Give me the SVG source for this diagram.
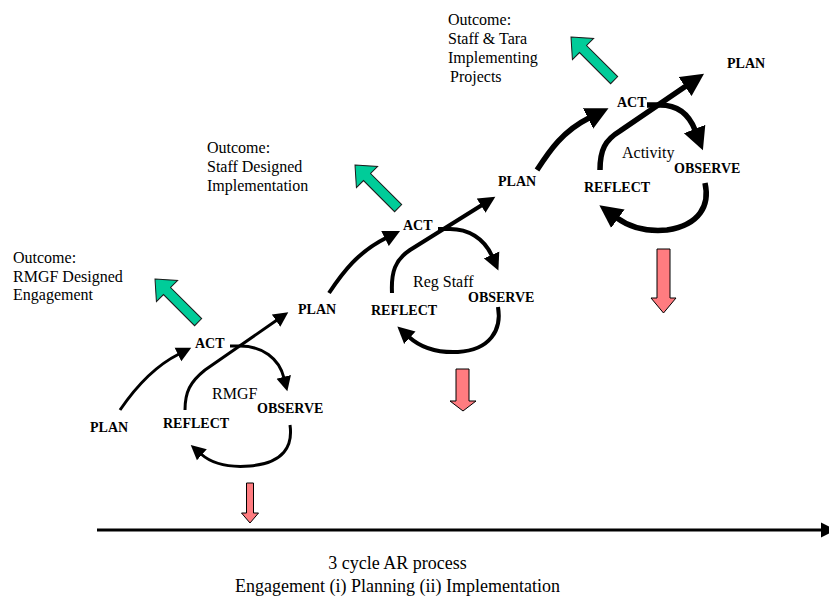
<svg xmlns="http://www.w3.org/2000/svg" xmlns:xlink="http://www.w3.org/1999/xlink" width="829" height="598" viewBox="0 0 829 598">
<style>
.lbl{font-family:"Liberation Serif","Times New Roman",serif;font-size:14px;font-weight:bold;fill:#000}
.txt{font-family:"Liberation Serif","Times New Roman",serif;font-size:16px;fill:#000}
.cap{font-family:"Liberation Serif","Times New Roman",serif;font-size:18px;fill:#000}
.c1{fill:none;stroke:#000;stroke-width:3}
.c2{fill:none;stroke:#000;stroke-width:4}
.c3{fill:none;stroke:#000;stroke-width:5.5}
.green{fill:#00CC99;stroke:#1a1a1a;stroke-width:1}
.pink{fill:#FF7C80;stroke:#000;stroke-width:1}
</style>
<defs>
<marker id="m1" markerUnits="userSpaceOnUse" markerWidth="16" markerHeight="16" refX="1" refY="6.5" orient="auto" viewBox="0 0 14 13"><path d="M0,0 L13,6.5 L0,13 Z" fill="#000"/></marker>
<marker id="m2" markerUnits="userSpaceOnUse" markerWidth="18" markerHeight="18" refX="1" refY="7.5" orient="auto" viewBox="0 0 16 15"><path d="M0,0 L15,7.5 L0,15 Z" fill="#000"/></marker>
<marker id="m3" markerUnits="userSpaceOnUse" markerWidth="24" markerHeight="24" refX="1" refY="10.5" orient="auto" viewBox="0 0 22 21"><path d="M0,0 L21,10.5 L0,21 Z" fill="#000"/></marker>
<polygon id="garrow" points="0,0 15,17 5,17 5,61 -5,61 -5,17 -15,17"/>
</defs>

<g id="connectors">
  <!-- cycle 1 -->
  <path class="c1" d="M120,410 C135,388 155,366 179,354" marker-end="url(#m1)"/>
  <path class="c1" d="M230,346 L240,346 C262,346 279,358 284,378" marker-end="url(#m1)"/>
  <path class="c1" d="M290,425 C293,446 284,463 250,466 C226,468 210,462 201,454" marker-end="url(#m1)"/>
  <path class="c1" d="M185,410 C185,392 190,382 205,370 L277,320" marker-end="url(#m1)"/>
  <!-- cycle 2 -->
  <path class="c2" d="M329,293 C343,272 358,252 386,238" marker-end="url(#m2)"/>
  <path class="c2" d="M438,229 L450,229 C468,229 484,238 492,256" marker-end="url(#m2)"/>
  <path class="c2" d="M498,307 C502,330 490,350 458,352 C436,353 420,347 409,337" marker-end="url(#m2)"/>
  <path class="c2" d="M392,293 C391,272 395,260 410,250 L482,205" marker-end="url(#m2)"/>
  <!-- cycle 3 -->
  <path class="c3" d="M537,170 C550,150 563,131 589,118" marker-end="url(#m3)"/>
  <path class="c3" d="M647,105 L660,105 C675,105 688,112 695,130" marker-end="url(#m3)"/>
  <path class="c3" d="M705,183 C710,205 700,225 667,230 C645,232 628,226 617,218" marker-end="url(#m3)"/>
  <path class="c3" d="M600,170 C600,150 605,140 620,131 L686,86" marker-end="url(#m3)"/>
  <!-- time axis -->
  <line x1="97" y1="530" x2="823" y2="530" stroke="#000" stroke-width="3"/>
  <polygon points="821,522.5 836,530 821,537.5" fill="#000"/>
</g>

<g id="outcome-arrows">
  <use xlink:href="#garrow" class="green" transform="translate(155,279) rotate(-45)"/>
  <use xlink:href="#garrow" class="green" transform="translate(355,165) rotate(-45)"/>
  <use xlink:href="#garrow" class="green" transform="translate(571,37) rotate(-45)"/>
</g>

<g id="down-arrows">
  <polygon class="pink" points="246.5,483 253.5,483 253.5,513 258.5,513 250,523 241.5,513 246.5,513"/>
  <polygon class="pink" points="456,369 469,369 469,401 476,401 463,411 450,401 456,401"/>
  <polygon class="pink" points="657,249 670,249 670,298 676,298 663.5,313 651,298 657,298"/>
</g>

<g id="cycle1">
  <g id="plan1"><text class="lbl" x="90" y="432">PLAN</text></g>
  <g id="act1"><text class="lbl" x="195" y="348">ACT</text></g>
  <g id="rmgf"><text class="txt" x="212" y="399">RMGF</text></g>
  <g id="observe1"><text class="lbl" x="257" y="413">OBSERVE</text></g>
  <g id="reflect1"><text class="lbl" x="163" y="428">REFLECT</text></g>
</g>

<g id="cycle2">
  <g id="plan2"><text class="lbl" x="298" y="314">PLAN</text></g>
  <g id="act2"><text class="lbl" x="403" y="230">ACT</text></g>
  <g id="regstaff"><text class="txt" x="413" y="287">Reg Staff</text></g>
  <g id="observe2"><text class="lbl" x="468" y="302">OBSERVE</text></g>
  <g id="reflect2"><text class="lbl" x="371" y="315">REFLECT</text></g>
</g>

<g id="cycle3">
  <g id="plan3"><text class="lbl" x="498" y="186">PLAN</text></g>
  <g id="act3"><text class="lbl" x="617" y="107">ACT</text></g>
  <g id="activity"><text class="txt" x="622" y="158">Activity</text></g>
  <g id="observe3"><text class="lbl" x="674" y="173">OBSERVE</text></g>
  <g id="reflect3"><text class="lbl" x="584" y="192">REFLECT</text></g>
  <g id="plan4"><text class="lbl" x="727" y="68">PLAN</text></g>
</g>

<g id="outcome1">
  <text class="txt" x="13" y="263">Outcome:</text>
  <text class="txt" x="13" y="281.5">RMGF Designed</text>
  <text class="txt" x="13" y="300">Engagement</text>
</g>
<g id="outcome2">
  <text class="txt" x="207" y="153">Outcome:</text>
  <text class="txt" x="207" y="172">Staff Designed</text>
  <text class="txt" x="207" y="191">Implementation</text>
</g>
<g id="outcome3">
  <text class="txt" x="448" y="25">Outcome:</text>
  <text class="txt" x="448" y="44">Staff &amp; Tara</text>
  <text class="txt" x="448" y="63">Implementing</text>
  <text class="txt" x="450" y="82">Projects</text>
</g>

<g id="caption">
  <text class="cap" x="397.5" y="569" text-anchor="middle">3 cycle AR process</text>
  <text class="cap" x="397.5" y="592" text-anchor="middle">Engagement (i) Planning (ii) Implementation</text>
</g>
</svg>
